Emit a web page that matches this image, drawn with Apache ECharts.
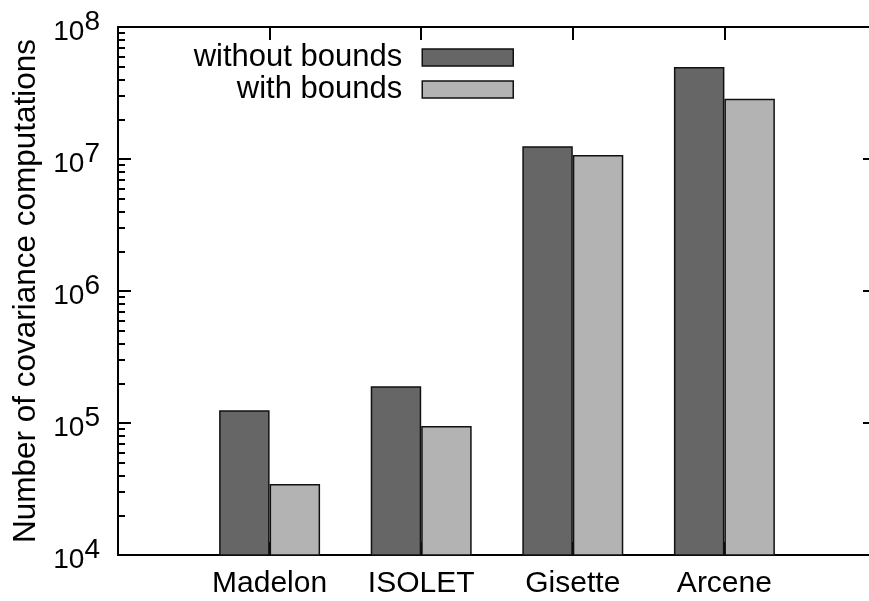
<!DOCTYPE html>
<html>
<head>
<meta charset="utf-8">
<script src="https://cdn.jsdelivr.net/npm/echarts@6/dist/echarts.min.js"></script>
<style>
html,body{margin:0;padding:0;background:#fff;}
#chart{width:869px;height:601px;}
</style>
</head>
<body>
<div id="chart"></div>
<script>
// Categories (empty slots pad the axis like the original gnuplot xrange)
const categories = ['', 'Madelon', 'ISOLET', 'Gisette', 'Arcene', ''];
const seriesNames = ['without bounds', 'with bounds'];
const withoutBounds = [null, 125000, 190000, 12500000, 49800000, null];
const withBounds = [null, 34500, 95000, 10700000, 28600000, null];
const yTickExponents = [4, 5, 6, 7, 8];
const yMinorTicks = [
  2e4, 3e4, 4e4, 5e4, 6e4, 7e4, 8e4, 9e4,
  2e5, 3e5, 4e5, 5e5, 6e5, 7e5, 8e5, 9e5,
  2e6, 3e6, 4e6, 5e6, 6e6, 7e6, 8e6, 9e6,
  2e7, 3e7, 4e7, 5e7, 6e7, 7e7, 8e7, 9e7
];
const yAxisTitle = 'Number of covariance computations';

const FONT = '"Liberation Sans", Arial, Helvetica, sans-serif';
const chart = echarts.init(document.getElementById('chart'), null, {renderer: 'canvas'});

const yMin = Math.pow(10, yTickExponents[0]);
const yMax = Math.pow(10, yTickExponents[yTickExponents.length - 1]);

function baseY(extra) {
  return Object.assign({
    type: 'log',
    logBase: 10,
    min: yMin,
    max: yMax,
    splitLine: {show: false},
    axisLabel: {show: false},
    axisLine: {show: false},
    axisTick: {show: false}
  }, extra);
}

const option = {
  backgroundColor: '#fff',
  animation: false,
  textStyle: {fontFamily: FONT, color: '#000'},
  grid: {left: 118, top: 27, right: -7, bottom: 46, containLabel: false, outerBoundsMode: 'none', show: false},
  legend: [
    {
      data: [seriesNames[0]],
      right: 355, top: 42, padding: 0,
      orient: 'vertical', align: 'right',
      icon: 'rect', itemWidth: 91, itemHeight: 17,
      selectedMode: false,
      textStyle: {fontSize: 31, color: '#000', fontFamily: FONT, padding: [0, 15, 0, 0]},
      itemStyle: {borderColor: '#111', borderWidth: 1.5}
    },
    {
      data: [seriesNames[1]],
      right: 355, top: 74, padding: 0,
      orient: 'vertical', align: 'right',
      icon: 'rect', itemWidth: 91, itemHeight: 17,
      selectedMode: false,
      textStyle: {fontSize: 31, color: '#000', fontFamily: FONT, padding: [0, 15, 0, 0]},
      itemStyle: {borderColor: '#111', borderWidth: 1.5}
    }
  ],
  xAxis: [
    {
      type: 'category', data: categories, boundaryGap: false, position: 'bottom',
      axisLine: {show: true, lineStyle: {color: '#000', width: 2}},
      axisTick: {show: true, inside: true, length: 13, interval: 0, lineStyle: {color: '#000', width: 2}},
      axisLabel: {show: true, interval: 0, margin: 14, fontSize: 30, color: '#000', fontFamily: FONT},
      splitLine: {show: false}
    },
    {
      type: 'category', data: categories, boundaryGap: false, position: 'top',
      axisLine: {show: true, lineStyle: {color: '#000', width: 2}},
      axisTick: {show: true, inside: true, length: 13, interval: 0, lineStyle: {color: '#000', width: 2}},
      axisLabel: {show: false},
      splitLine: {show: false}
    }
  ],
  yAxis: [
    baseY({
      position: 'left',
      name: yAxisTitle, nameLocation: 'middle', nameGap: 76, nameRotate: 90,
      nameTextStyle: {fontSize: 31.5, color: '#000', fontFamily: FONT},
      axisLine: {show: true, lineStyle: {color: '#000', width: 2}},
      axisTick: {show: true, inside: true, length: 13, lineStyle: {color: '#000', width: 2}},
      axisLabel: {
        show: true, margin: 18,
        formatter: function (v) {
          const e = Math.round(Math.log10(v));
          return '{b|10}{s|' + e + '}';
        },
        rich: {
          b: {fontSize: 28, color: '#000', fontFamily: FONT, verticalAlign: 'bottom'},
          s: {fontSize: 28, color: '#000', fontFamily: FONT, verticalAlign: 'top', padding: [0, 0, 10, 0]}
        }
      }
    }),
    baseY({
      position: 'left', offset: 0,
      axisTick: {show: true, inside: true, length: 7, customValues: yMinorTicks, lineStyle: {color: '#000', width: 2}}
    }),
    baseY({
      position: 'right', offset: 0,
      axisLine: {show: true, lineStyle: {color: '#000', width: 2}},
      axisTick: {show: true, inside: true, length: 13, lineStyle: {color: '#000', width: 2}}
    }),
    baseY({
      position: 'right', offset: 0,
      axisTick: {show: true, inside: true, length: 7, customValues: yMinorTicks, lineStyle: {color: '#ccc', width: 1, type: 'dashed'}}
    })
  ],
  series: [
    {
      name: seriesNames[0], type: 'bar', xAxisIndex: 0, yAxisIndex: 0,
      data: withoutBounds, barWidth: '33.3%', barGap: '0%', clip: true,
      itemStyle: {color: '#666666', borderColor: '#111', borderWidth: 1.5}
    },
    {
      name: seriesNames[1], type: 'bar', xAxisIndex: 0, yAxisIndex: 0,
      data: withBounds, barWidth: '33.3%', barGap: '0%', clip: true,
      itemStyle: {color: '#b3b3b3', borderColor: '#111', borderWidth: 1.5}
    }
  ]
};
chart.setOption(option);
</script>
</body>
</html>
